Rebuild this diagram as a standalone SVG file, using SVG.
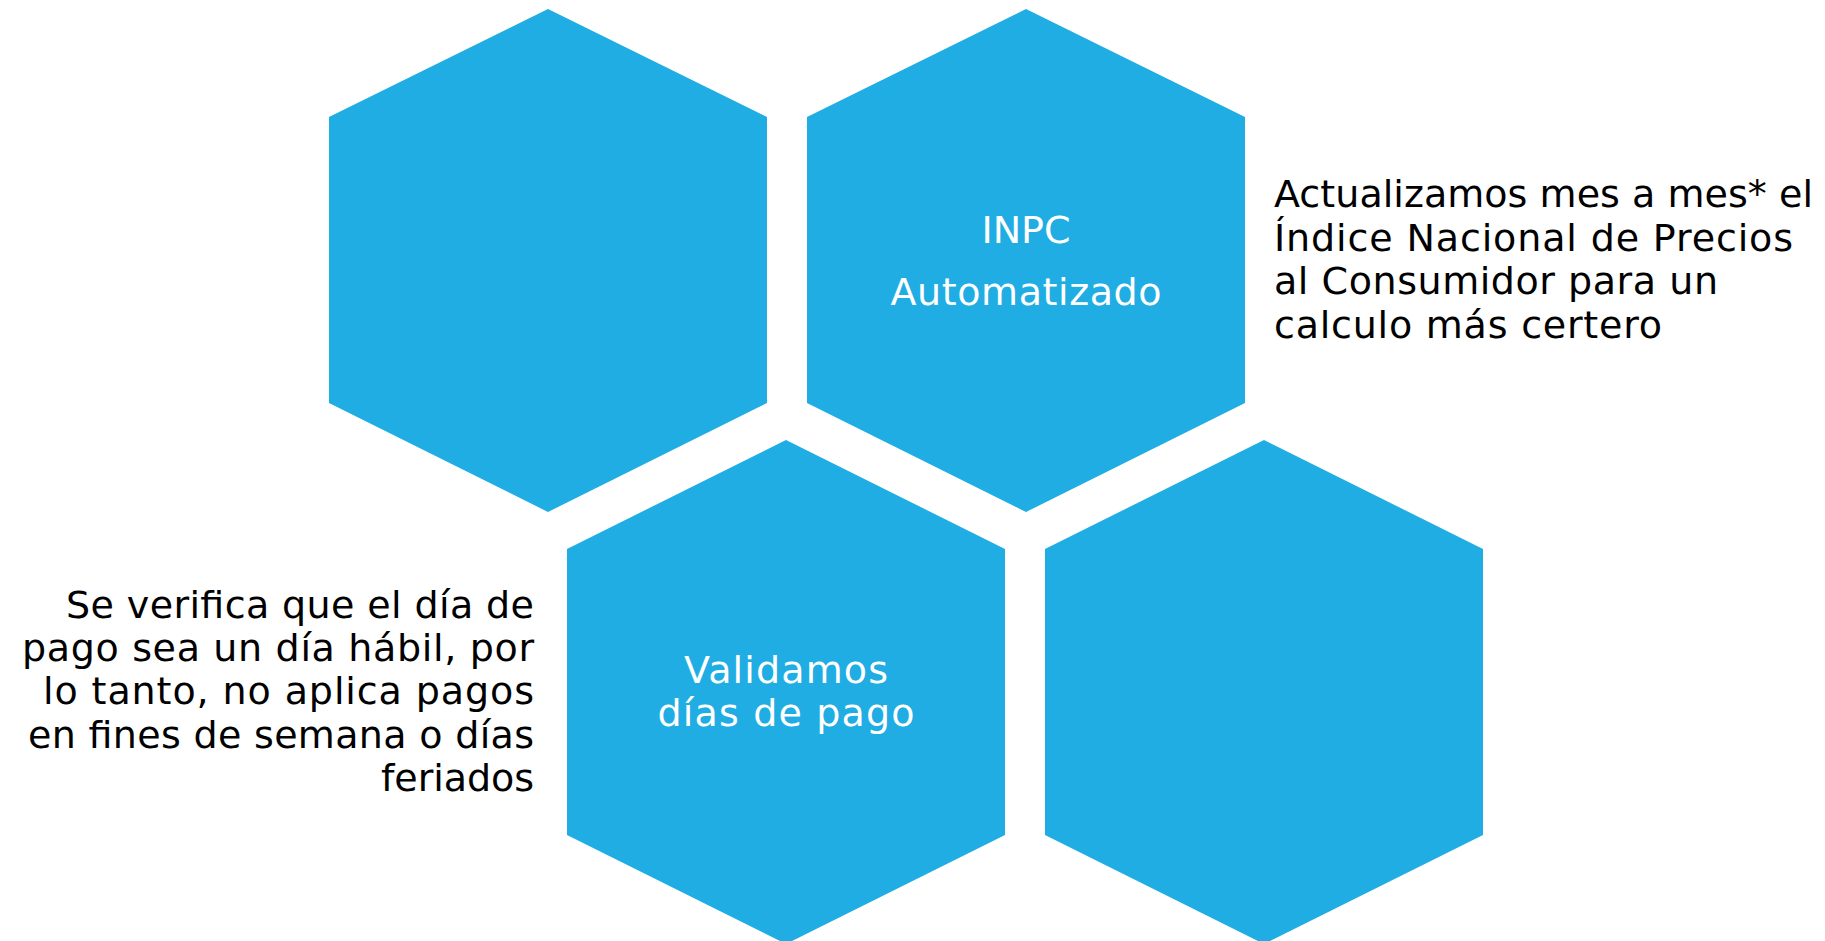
<svg xmlns="http://www.w3.org/2000/svg" width="1825" height="941" viewBox="0 0 1825 941">
<style>
.hex{fill:#1FADE3}
.in{font-family:"DejaVu Sans","Liberation Sans",sans-serif;font-size:38px;fill:#FFFFFF;text-anchor:middle}
.side{font-family:"DejaVu Sans","Liberation Sans",sans-serif;font-size:38px;fill:#000000}
</style>
<rect width="1825" height="941" fill="#FFFFFF"/>
<g id="hex-top-left">
<polygon class="hex" points="548,9 767,117 767,403 548,512 329,403 329,117"/>
</g>
<g id="hex-inpc">
<polygon class="hex" points="1026,9 1245,117 1245,403 1026,512 807,403 807,117"/>
<text class="in" x="1026" y="243">INPC</text>
<text class="in" x="1026" y="305" textLength="271">Automatizado</text>
</g>
<g id="hex-validamos">
<polygon class="hex" points="786,440 1005,549 1005,835 786,944 567,835 567,549"/>
<text class="in" x="786" y="683" textLength="204">Validamos</text>
<text class="in" x="786" y="726" textLength="257">días de pago</text>
</g>
<g id="hex-bottom-right">
<polygon class="hex" points="1264,440 1483,549 1483,835 1264,944 1045,835 1045,549"/>
</g>
<g id="text-inpc">
<text class="side" x="1274" y="207" textLength="539">Actualizamos mes a mes* el</text>
<text class="side" x="1274" y="251" textLength="519">Índice Nacional de Precios</text>
<text class="side" x="1274" y="294" textLength="444">al Consumidor para un</text>
<text class="side" x="1274" y="338" textLength="388">calculo más certero</text>
</g>
<g id="text-validamos" text-anchor="end">
<text class="side" x="534" y="618" textLength="468">Se verifica que el día de</text>
<text class="side" x="534" y="661" textLength="512">pago sea un día hábil, por</text>
<text class="side" x="534" y="704" textLength="491">lo tanto, no aplica pagos</text>
<text class="side" x="534" y="748" textLength="506">en fines de semana o días</text>
<text class="side" x="534" y="791" textLength="153">feriados</text>
</g>
<g id="connectors"/>
</svg>
